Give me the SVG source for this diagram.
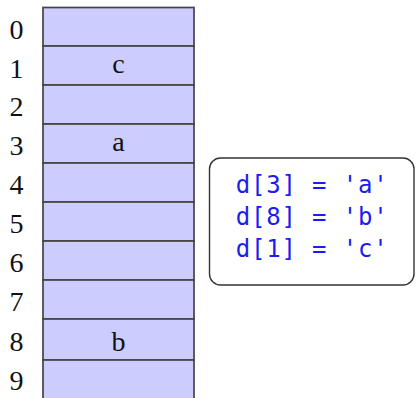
<svg xmlns="http://www.w3.org/2000/svg" width="416" height="398" viewBox="0 0 416 398">
<style>
.cell{fill:#ccccff;stroke:#444;stroke-width:1.7}
.idx{font-family:"Liberation Serif","DejaVu Serif",serif;font-size:28px;fill:#111;text-anchor:middle}
.val{font-family:"Liberation Serif","DejaVu Serif",serif;font-size:28px;fill:#111;text-anchor:middle}
.code{font-family:"DejaVu Sans Mono","Liberation Mono",monospace;font-size:24px;fill:#1c1cf2}
.box{fill:#fff;stroke:#333;stroke-width:1.4}
</style>
<rect width="416" height="398" fill="#fff"/>
<g id="cell0"><rect class="cell" x="43" y="7.5" width="151" height="38.5"/><text class="idx" x="16.5" y="39">0</text></g>
<g id="cell1"><rect class="cell" x="43" y="46" width="151" height="39"/><text class="idx" x="16.5" y="77.5">1</text><text class="val" x="118.5" y="73">c</text></g>
<g id="cell2"><rect class="cell" x="43" y="85" width="151" height="39"/><text class="idx" x="16.5" y="116">2</text></g>
<g id="cell3"><rect class="cell" x="43" y="124" width="151" height="39"/><text class="idx" x="16.5" y="155">3</text><text class="val" x="118.5" y="151">a</text></g>
<g id="cell4"><rect class="cell" x="43" y="163" width="151" height="39"/><text class="idx" x="16.5" y="194">4</text></g>
<g id="cell5"><rect class="cell" x="43" y="202" width="151" height="39"/><text class="idx" x="16.5" y="233">5</text></g>
<g id="cell6"><rect class="cell" x="43" y="241" width="151" height="39"/><text class="idx" x="16.5" y="272">6</text></g>
<g id="cell7"><rect class="cell" x="43" y="280" width="151" height="39"/><text class="idx" x="16.5" y="311">7</text></g>
<g id="cell8"><rect class="cell" x="43" y="319" width="151" height="41"/><text class="idx" x="16.5" y="351">8</text><text class="val" x="118.5" y="351">b</text></g>
<g id="cell9"><rect class="cell" x="43" y="360" width="151" height="45"/><text class="idx" x="16.5" y="390">9</text></g>
<g id="code">
<rect class="box" x="209.5" y="158" width="204.5" height="127" rx="11"/>
<text class="code" x="235.7" y="193" textLength="152" lengthAdjust="spacing">d[3] = 'a'</text>
<text class="code" x="235.7" y="225" textLength="152" lengthAdjust="spacing">d[8] = 'b'</text>
<text class="code" x="235.7" y="257" textLength="152" lengthAdjust="spacing">d[1] = 'c'</text>
</g>
<g id="connectors"/>
</svg>
